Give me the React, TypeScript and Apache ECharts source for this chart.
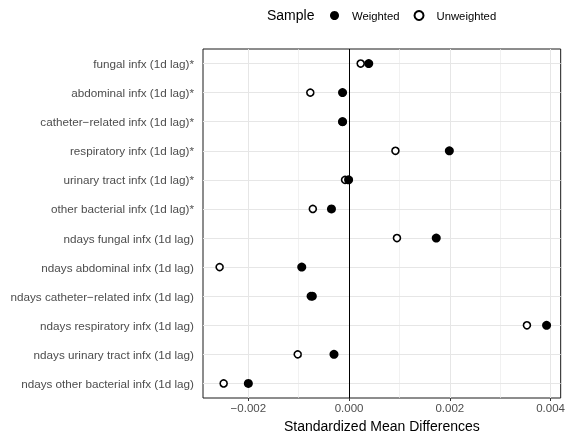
import React, { useEffect, useRef } from "react";
import * as echarts from "echarts";

const categories: string[] = [
  "fungal infx (1d lag)*",
  "abdominal infx (1d lag)*",
  "catheter\u2212related infx (1d lag)*",
  "respiratory infx (1d lag)*",
  "urinary tract infx (1d lag)*",
  "other bacterial infx (1d lag)*",
  "ndays fungal infx (1d lag)",
  "ndays abdominal infx (1d lag)",
  "ndays catheter\u2212related infx (1d lag)",
  "ndays respiratory infx (1d lag)",
  "ndays urinary tract infx (1d lag)",
  "ndays other bacterial infx (1d lag)",
];

const weighted: number[] = [
  0.00039, -0.00013, -0.00013, 0.00199, -0.00001, -0.00035,
  0.00173, -0.00094, -0.00073, 0.00392, -0.0003, -0.002,
];

const unweighted: number[] = [
  0.00023, -0.00077, -0.00013, 0.00092, -0.00008, -0.00072,
  0.00095, -0.00257, -0.00076, 0.00353, -0.00102, -0.00249,
];

const legendTitle = "Sample";
const seriesNames: string[] = ["Weighted", "Unweighted"];
const axisTitle = "Standardized Mean Differences";

const xMin = -0.0029;
const xMax = 0.0042;
const xLabelStep = 0.002;

const FONT = "'Liberation Sans', Arial, Helvetica, sans-serif";

export default function App() {
  const ref = useRef<HTMLDivElement>(null);

  useEffect(() => {
    if (!ref.current) return;
    const chart = echarts.init(ref.current, undefined, { renderer: "svg" });

    const fmt = (v: number) => {
      const r = v / xLabelStep;
      if (Math.abs(r - Math.round(r)) > 1e-6) return "";
      const s = Math.abs(v).toFixed(3);
      return v < -1e-12 ? "\u2212" + s : s;
    };

    chart.setOption({
      animation: false,
      textStyle: { fontFamily: FONT },
      grid: {
        left: 203,
        right: 5,
        top: 49,
        bottom: 42,
        show: true,
        borderColor: "#1a1a1a",
        borderWidth: 1,
        backgroundColor: "transparent",
      },
      graphic: [
        {
          type: "text",
          left: 267,
          top: 8,
          style: { text: legendTitle, fontSize: 14, fill: "#000", fontFamily: FONT },
        },
      ],
      legend: {
        data: seriesNames,
        left: 325,
        top: 5,
        itemWidth: 25,
        itemHeight: 9,
        itemGap: 14,
        textStyle: { fontSize: 11.3, color: "#000", fontFamily: FONT },
      },
      xAxis: {
        type: "value",
        min: xMin,
        max: xMax,
        splitNumber: 4,
        name: axisTitle,
        nameLocation: "middle",
        nameGap: 19,
        nameTextStyle: { fontSize: 14, color: "#000", fontFamily: FONT },
        axisLine: { show: false },
        axisTick: { show: true, length: 3, lineStyle: { color: "#333" } },
        axisLabel: {
          formatter: fmt,
          showMinLabel: false,
          showMaxLabel: false,
          fontSize: 11.5,
          color: "#4d4d4d",
          margin: 4,
          fontFamily: FONT,
        },
        splitLine: {
          show: true,
          showMinLine: false,
          showMaxLine: false,
          lineStyle: { color: "#e6e6e6", width: 1 },
        },
        minorTick: { show: false, splitNumber: 2 },
        minorSplitLine: { show: true, lineStyle: { color: "#ebebeb", width: 0.7 } },
      },
      yAxis: {
        type: "category",
        data: categories,
        inverse: true,
        axisLine: { show: false },
        axisTick: {
          show: true,
          alignWithLabel: true,
          length: 5,
          lineStyle: { color: "#333" },
        },
        axisLabel: {
          fontSize: 11.7,
          color: "#4d4d4d",
          margin: 9,
          fontFamily: FONT,
        },
        splitLine: { show: false },
      },
      series: [
        {
          type: "scatter",
          name: "guides",
          data: [],
          z: 1,
          silent: true,
          markLine: {
            z: 1,
            silent: true,
            symbol: ["none", "none"],
            label: { show: false },
            animation: false,
            emphasis: { disabled: true },
            data: [
              ...categories.map((c) => ({
                yAxis: c,
                lineStyle: { color: "#e6e6e6", width: 1, type: "solid" },
              })),
              {
                xAxis: 0,
                lineStyle: { color: "#000", width: 1, type: "solid" },
              },
            ],
          },
        },
        {
          type: "scatter",
          name: seriesNames[1],
          z: 3,
          symbol: "circle",
          symbolSize: 7,
          itemStyle: { color: "#fff", borderColor: "#000", borderWidth: 1.6, opacity: 1 },
          data: unweighted.map((v, i) => [v, i]),
        },
        {
          type: "scatter",
          name: seriesNames[0],
          z: 4,
          symbol: "circle",
          symbolSize: 9,
          itemStyle: { color: "#000", opacity: 1 },
          data: weighted.map((v, i) => [v, i]),
        },
      ],
    });

    return () => {
      chart.dispose();
    };
  }, []);

  return (
    <div
      ref={ref}
      style={{ position: "fixed", left: 0, top: 0, width: 568, height: 440 }}
    />
  );
}
